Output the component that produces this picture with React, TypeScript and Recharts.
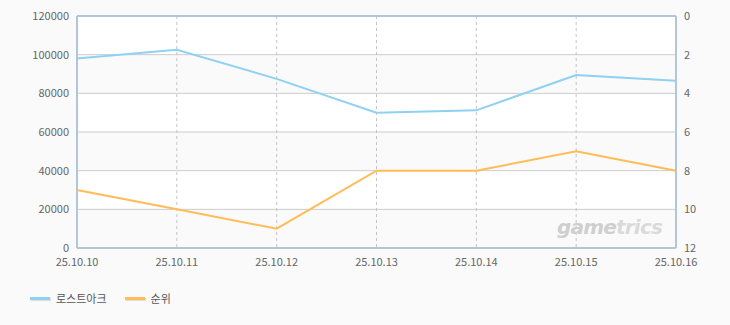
import {
  CartesianGrid,
  Line,
  LineChart,
  ReferenceLine,
  XAxis,
  YAxis,
} from "recharts";

const dates = ["25.10.10", "25.10.11", "25.10.12", "25.10.13", "25.10.14", "25.10.15", "25.10.16"];
const users = [98000, 102500, 87500, 70000, 71200, 89500, 86500];
const ranks = [9, 10, 11, 8, 8, 7, 8];
const leftTicks = [0, 20000, 40000, 60000, 80000, 100000, 120000];
const rightTicks = [0, 2, 4, 6, 8, 10, 12];
const seriesNames = ["로스트아크", "순위"];
const seriesColors = ["#8ed1f2", "#ffbc57"];

const data = dates.map((d, i) => ({ date: d, users: users[i], rank: ranks[i] }));

const tickStyle = { fontSize: 11, fill: "#666", fontFamily: "'Noto Sans CJK KR', 'DejaVu Sans', sans-serif" };
const frame = "#b2c5d9";

export default function App() {
  return (
    <div
      style={{
        position: "absolute",
        left: 0,
        top: 0,
        width: 730,
        height: 325,
        background: "#fafafa",
        fontFamily: "'Noto Sans CJK KR', 'DejaVu Sans', sans-serif",
      }}
    >
      <LineChart
        width={730}
        height={325}
        data={data}
        margin={{ top: 16, right: 0, bottom: 0, left: 0 }}
      >
        <CartesianGrid
          yAxisId="left"
          vertical={false}
          stroke="#cccccc"
          fill="#ffffff"
          horizontalFill={["#ffffff", "#fafafa"]}
        />
        <CartesianGrid yAxisId="left" horizontal={false} stroke="#c4c4c4" strokeDasharray="3 3" />
        <XAxis
          dataKey="date"
          height={77}
          tick={tickStyle}
          tickLine={false}
          axisLine={{ stroke: frame, strokeWidth: 2 }}
          interval={0}
          tickMargin={4}
        />
        <YAxis
          yAxisId="left"
          width={77}
          domain={[0, 120000]}
          ticks={leftTicks}
          tick={tickStyle}
          tickLine={false}
          axisLine={{ stroke: frame, strokeWidth: 2 }}
          tickMargin={2}
        />
        <YAxis
          yAxisId="right"
          orientation="right"
          width={54}
          domain={[0, 12]}
          reversed
          ticks={rightTicks}
          tick={{ ...tickStyle, textAnchor: "start" }}
          tickLine={false}
          axisLine={{ stroke: frame, strokeWidth: 2 }}
          tickMargin={2}
        />
        <ReferenceLine yAxisId="left" y={120000} stroke={frame} strokeWidth={2} />
        <Line
          yAxisId="left"
          type="linear"
          dataKey="users"
          name={seriesNames[0]}
          stroke={seriesColors[0]}
          strokeWidth={2}
          dot={false}
          isAnimationActive={false}
        />
        <Line
          yAxisId="right"
          type="linear"
          dataKey="rank"
          name={seriesNames[1]}
          stroke={seriesColors[1]}
          strokeWidth={2}
          dot={false}
          isAnimationActive={false}
        />
      </LineChart>
      <div
        style={{
          position: "absolute",
          left: 557,
          top: 215,
          fontSize: 20,
          fontWeight: "bold",
          fontStyle: "italic",
          color: "#cfcfcf",
          fontFamily: "'DejaVu Sans', sans-serif",
          letterSpacing: -0.8,
        }}
      >
        game<span style={{ color: "#dadada" }}>trics</span>
      </div>
      <div style={{ position: "absolute", left: 30, top: 290, display: "flex", fontSize: 11, color: "#555" }}>
        {seriesNames.map((n, i) => (
          <div key={n} style={{ display: "flex", alignItems: "center", marginRight: 18 }}>
            <span
              style={{
                display: "inline-block",
                width: 20,
                height: 3,
                background: seriesColors[i],
                boxShadow: "1px 1px 0 #ddd",
                marginRight: 6,
              }}
            />
            {n}
          </div>
        ))}
      </div>
    </div>
  );
}
